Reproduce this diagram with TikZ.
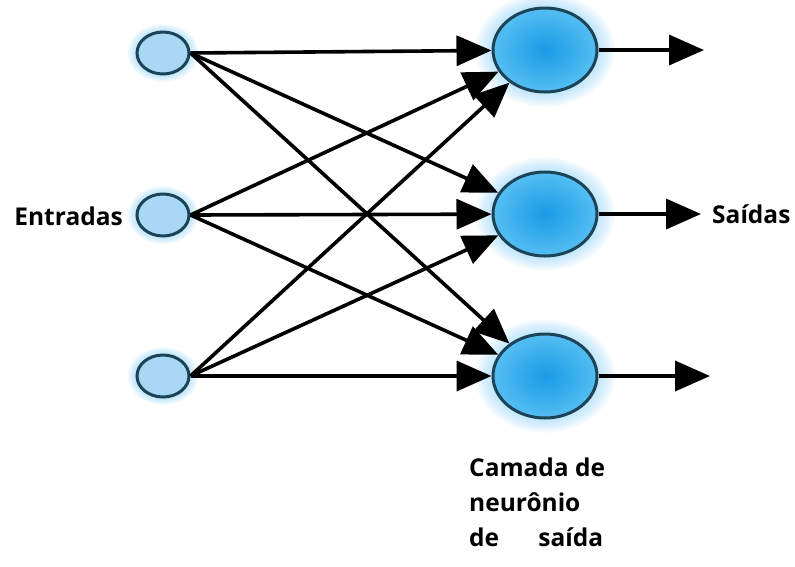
\documentclass[tikz,border=0pt]{standalone}
\usepackage{fontspec}
\setmainfont{Open Sans}
\usetikzlibrary{shapes.geometric,arrows.meta}

\definecolor{inFill}{RGB}{168,216,244}
\definecolor{outInner}{RGB}{24,155,230}
\definecolor{outOuter}{RGB}{85,190,242}
\definecolor{rim}{RGB}{28,68,88}
\definecolor{halo}{RGB}{120,200,245}

\tikzset{
  inneuron/.style={ellipse, draw=rim, line width=3pt, fill=inFill,
    minimum width=52pt, minimum height=42pt, inner sep=0pt},
  outneuron/.style={ellipse, draw=rim, line width=3pt,
    shading=radial, inner color=outInner, outer color=outOuter,
    minimum width=104pt, minimum height=84pt, inner sep=0pt},
  link/.style={line width=3.6pt, -{Triangle[length=35pt,width=30pt]}},
  lbl/.style={font=\bfseries\fontsize{24.5}{35}\selectfont, inner sep=0pt}
}

% soft blue glow behind a neuron: centre, x radius, y radius
\newcommand{\glowat}[3]{%
  \foreach \k in {1,...,7}{%
    \fill[halo, opacity=0.08]
      (#1) ellipse ({#2*(1+0.045*\k)} and {#3*(1+0.045*\k)});
  }%
}

\begin{document}
\begin{tikzpicture}[x=1pt,y=-1pt]
\useasboundingbox (0,0) rectangle (795,566);

% halos
\glowat{163,53}{27}{22}
\glowat{163,215}{27}{22}
\glowat{163,376}{27}{22}
\glowat{545,50}{53}{43}
\glowat{545,214}{53}{43}
\glowat{545,376}{53}{43}

% input neurons
\node[inneuron] (i1) at (163,53) {};
\node[inneuron] (i2) at (163,215) {};
\node[inneuron] (i3) at (163,376) {};

% output neurons
\node[outneuron] (o1) at (545,50) {};
\node[outneuron] (o2) at (545,214) {};
\node[outneuron] (o3) at (545,376) {};

% fully connected weights
\foreach \i in {1,2,3}{
  \foreach \j in {1,2,3}{
    \draw[link] (i\i.east) -- (o\j);
  }
}

% outputs
\coordinate (e1) at (704,50);
\coordinate (e2) at (701,214);
\coordinate (e3) at (710,376);
\draw[link] (o1.east) -- (e1);
\draw[link] (o2.east) -- (e2);
\draw[link] (o3.east) -- (e3);

% labels
\node[lbl, anchor=east] (lin) at (123,216) {Entradas};
\node[lbl, anchor=west] (lout) at (712,214) {Saídas};
\node[lbl, anchor=north west, align=left] (llayer) at (469,458)
  {Camada de\\neurônio\\de\hspace{1.6em}saída};
\end{tikzpicture}
\end{document}
